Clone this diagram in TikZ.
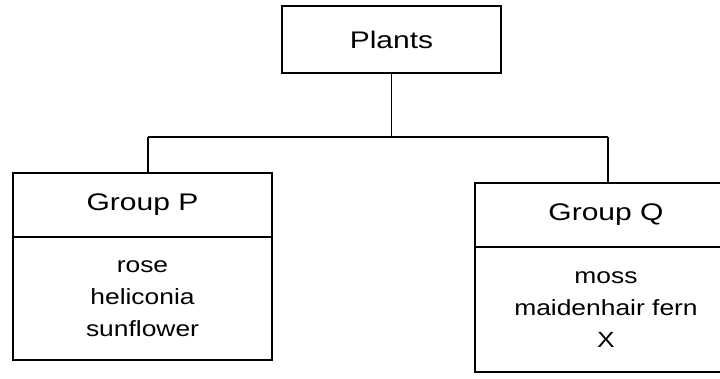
\documentclass[tikz,border=0pt]{standalone}
\usepackage{fontspec}
\setmainfont{Liberation Sans}
\usetikzlibrary{positioning}
\pgfdeclarelayer{edgelayer}
\pgfdeclarelayer{nodelayer}
\pgfsetlayers{edgelayer,nodelayer,main}
\newcommand{\widehead}[1]{\scalebox{1.25}[1]{#1}}
\newcommand{\widebody}[1]{\scalebox{1.2}[1]{#1}}
\tikzstyle{none}=[inner sep=0pt]
\tikzstyle{head}=[draw,line width=1.3pt,outer sep=0pt,minimum height=64pt,font=\fontsize{24}{28}\selectfont]
\tikzstyle{list}=[draw,line width=1.3pt,outer sep=0pt,align=center,font=\fontsize{22}{32}\selectfont]

\begin{document}
\begin{tikzpicture}[x=1pt,y=-1pt]
	\useasboundingbox (0, 0) rectangle (720, 379);
	\begin{pgfonlayer}{nodelayer}
		\node [style=head, minimum width=219pt, minimum height=67pt] (0) at (391.5, 39.5) {\widehead{Plants}};
		\node [style=head, minimum width=259pt] (1) at (142.5, 205) {\widehead{Group P}};
		\node [style=list, minimum width=259pt, minimum height=123pt] (2) at (142.5, 298.5) {\widebody{rose}\\\widebody{heliconia}\\\widebody{sunflower}};
		\node [style=head, minimum width=262pt] (3) at (606, 215) {\widehead{Group Q}};
		\node [style=list, minimum width=262pt, minimum height=125pt] (4) at (606, 309.5) {\widebody{moss}\\\widebody{maidenhair fern}\\\widebody{X}};
		\node [style=none] (5) at (391.5, 137) {};
		\node [style=none] (6) at (148, 137) {};
		\node [style=none] (7) at (608, 137) {};
	\end{pgfonlayer}
	\begin{pgfonlayer}{edgelayer}
		\draw[line width=1.3pt] (0) to (5.center);
		\draw[line width=1.3pt] (6.center) to (7.center);
		\draw[line width=1.3pt] (6.center) to (6.center |- 1.north);
		\draw[line width=1.3pt] (7.center) to (7.center |- 3.north);
	\end{pgfonlayer}
\end{tikzpicture}
\end{document}
